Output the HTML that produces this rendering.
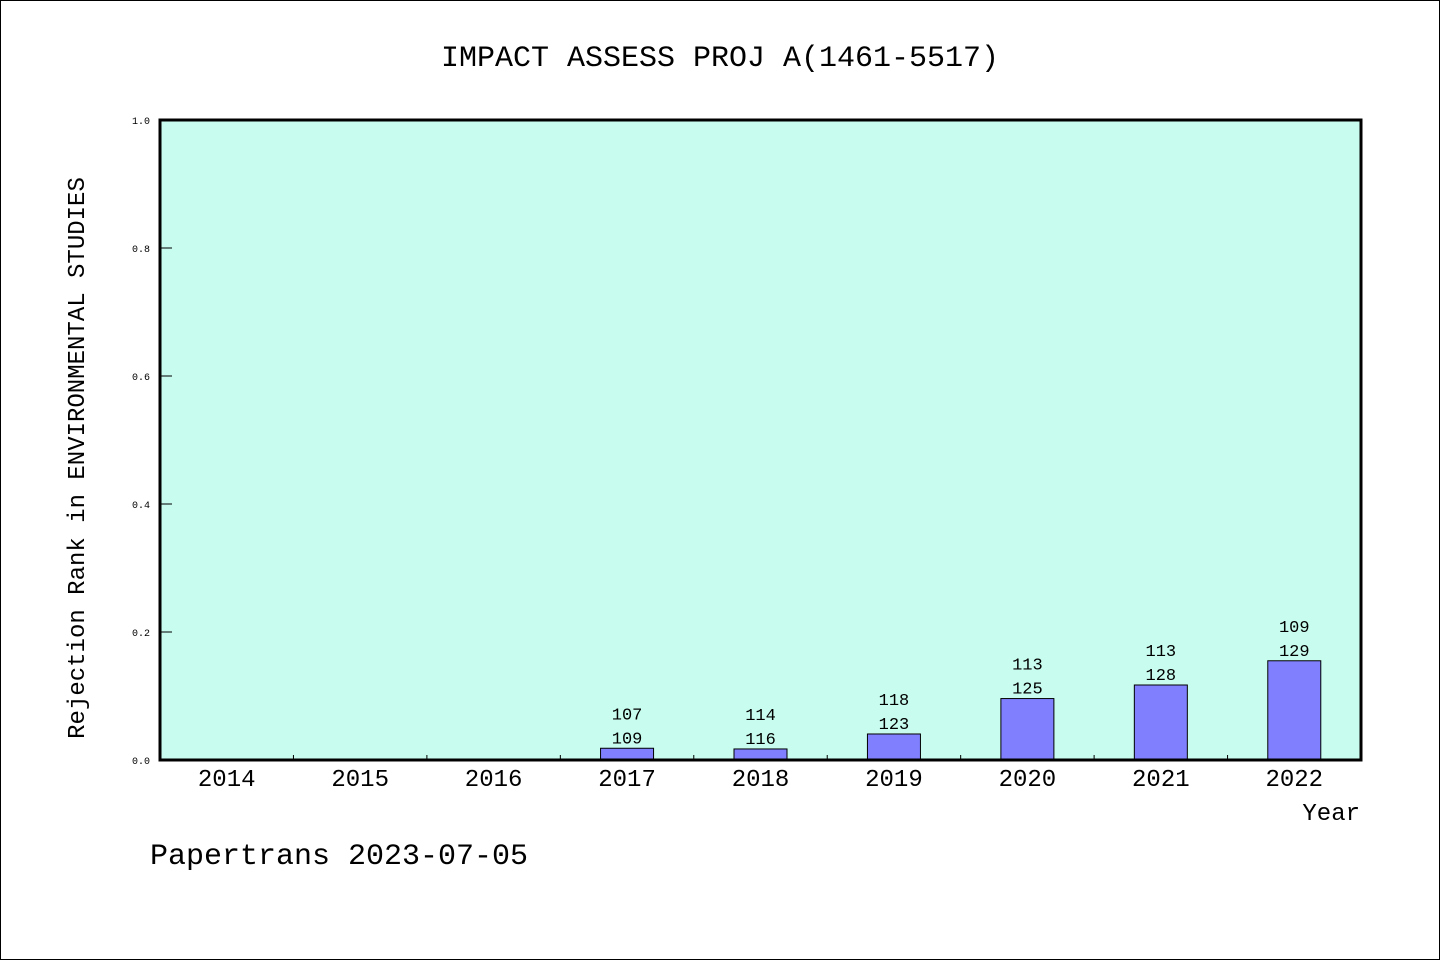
<!DOCTYPE html>
<html><head><meta charset="utf-8"><style>
body{margin:0;background:#fff}
svg{display:block;font-family:"Liberation Mono","DejaVu Sans Mono",monospace}
</style></head><body>
<svg id="c" width="1440" height="960">
<rect x="0.5" y="0.5" width="1439" height="959" fill="#fff" stroke="#000"/>
<text x="720" y="66" text-anchor="middle" font-size="30">IMPACT ASSESS PROJ A(1461-5517)</text>
<rect x="160" y="120" width="1201" height="640" fill="#c8fcee"/>
<g id="marks"></g>
<rect x="160" y="120" width="1201" height="640" fill="none" stroke="#000" stroke-width="3"/>
<text transform="translate(84,458) rotate(-90)" text-anchor="middle" font-size="24">Rejection Rank in ENVIRONMENTAL STUDIES</text>
<text x="1360" y="820" text-anchor="end" font-size="24">Year</text>
<text x="150" y="864" font-size="30">Papertrans 2023-07-05</text>
</svg>
<script>
const years=["2014","2015","2016","2017","2018","2019","2020","2021","2022"];
const ranks=[null,null,null,107,114,118,113,113,109];
const totals=[null,null,null,109,116,123,125,128,129];
const yTicks=[0,0.2,0.4,0.6,0.8,1.0];
const X0=160,W=1201,Y0=760,H=640;
const band=W/years.length;
const xc=i=>X0+band*(i+0.5);
const y=v=>Y0-v*H;
const ns="http://www.w3.org/2000/svg";
const g=document.getElementById('marks');
function mk(t,a){const e=document.createElementNS(ns,t);for(const k in a)e.setAttribute(k,a[k]);g.appendChild(e);return e;}
yTicks.forEach(v=>{
  const l=mk('line',{x1:X0,x2:X0+12,y1:y(v),y2:y(v),stroke:'#000','stroke-width':1});
  
  
  const t=mk('text',{x:X0-10,y:y(v)+4,'text-anchor':'end','font-size':10});
  t.textContent=v.toFixed(1);
  
  
});
years.forEach((yr,i)=>{
  if(i>0){const l=mk('line',{x1:X0+band*i,x2:X0+band*i,y1:Y0,y2:Y0-5,stroke:'#000'});
  
  }
  const t=mk('text',{x:xc(i),y:786,'text-anchor':'middle','font-size':24});
  t.textContent=yr;
  
  
  if(ranks[i]!=null){
    const v=(totals[i]-ranks[i])/totals[i];
    const b=mk('rect',{x:xc(i)-26.5,y:y(v),width:53,height:Y0-y(v),fill:'#8080ff',stroke:'#000','stroke-width':1});
    
    
    const t1=mk('text',{x:xc(i),y:y(v)-29,'text-anchor':'middle','font-size':17});
    t1.textContent=ranks[i];
    
    
    const t2=mk('text',{x:xc(i),y:y(v)-5,'text-anchor':'middle','font-size':17});
    t2.textContent=totals[i];
    
    
  }
});
</script>
</body></html>
